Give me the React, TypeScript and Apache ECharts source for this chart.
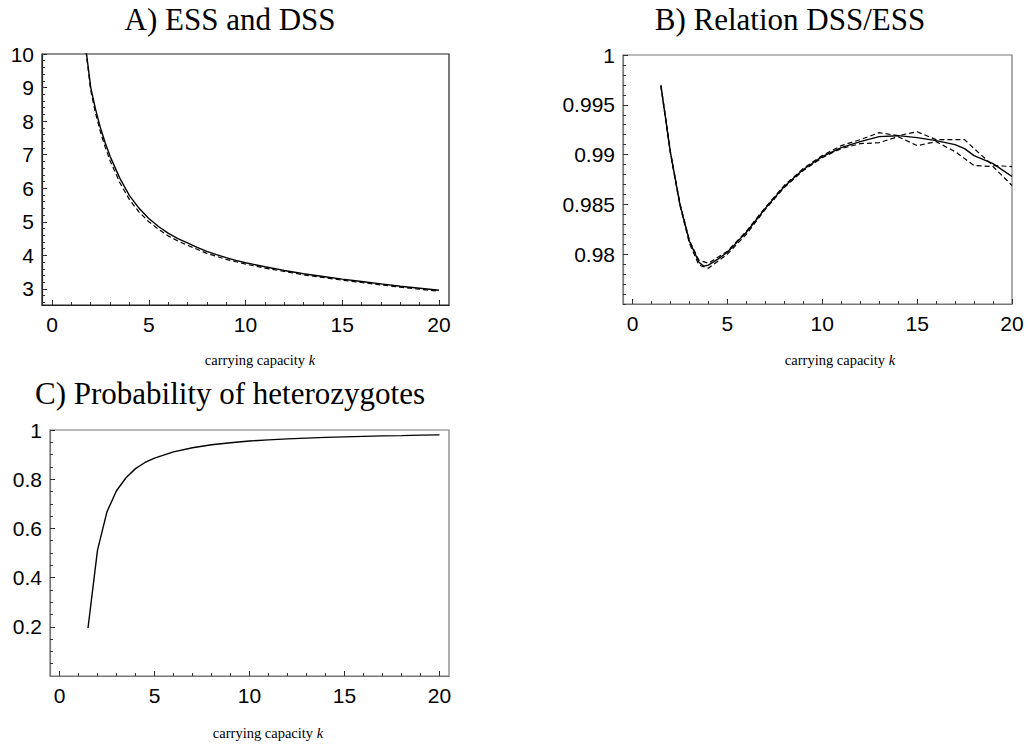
import React, { useEffect, useRef } from "react";
import * as echarts from "echarts";

// ---------- Panel A: ESS and DSS ----------
const K_A = [1.75, 2, 2.25, 2.5, 2.75, 3, 3.5, 4, 4.5, 5, 5.5, 6, 6.5, 7, 7.5, 8, 8.5, 9, 9.5, 10, 11, 12, 13, 14, 15, 16, 17, 18, 19, 20];
const ESS = [10.15, 9.0, 8.35, 7.8, 7.35, 6.95, 6.3, 5.78, 5.4, 5.1, 4.86, 4.66, 4.5, 4.37, 4.24, 4.12, 4.02, 3.93, 3.85, 3.78, 3.66, 3.55, 3.45, 3.37, 3.29, 3.22, 3.15, 3.08, 3.02, 2.96];
const DSS = [10.1, 8.91, 8.23, 7.68, 7.22, 6.82, 6.17, 5.66, 5.29, 5.0, 4.78, 4.58, 4.43, 4.3, 4.18, 4.06, 3.97, 3.88, 3.81, 3.74, 3.62, 3.52, 3.42, 3.34, 3.26, 3.19, 3.12, 3.05, 2.99, 2.93];

// ---------- Panel B: Relation DSS/ESS ----------
const K_B = [1.5, 2, 2.5, 3, 3.5, 3.75, 4, 4.5, 5, 6, 7, 8, 9, 10, 11, 12, 13, 14, 15, 16, 17, 17.5, 18, 19, 20];
const REL = [0.9969, 0.9902, 0.985, 0.9813, 0.9792, 0.9788, 0.9789, 0.9795, 0.9802, 0.9822, 0.9846, 0.9868, 0.9885, 0.9898, 0.9907, 0.9913, 0.9918, 0.9919, 0.9917, 0.9914, 0.991, 0.9906, 0.9899, 0.9891, 0.9878];
const K_BAND = [1.5, 2, 2.5, 3, 3.5, 4, 4.5, 5, 6, 7, 8, 9, 10, 11, 12, 13, 14, 15, 16, 17, 17.5, 18, 19, 20];
const REL_UPPER = [0.997, 0.9903, 0.9851, 0.9814, 0.9794, 0.9791, 0.9797, 0.9803, 0.9823, 0.9847, 0.9869, 0.9886, 0.9899, 0.9909, 0.9915, 0.9922, 0.9919, 0.9923, 0.9915, 0.9915, 0.9915, 0.9906, 0.9889, 0.9888];
const REL_LOWER = [0.9968, 0.9901, 0.9849, 0.9811, 0.9789, 0.9786, 0.9793, 0.98, 0.982, 0.9845, 0.9867, 0.9884, 0.9897, 0.9906, 0.9911, 0.9912, 0.9918, 0.9909, 0.9913, 0.9903, 0.9896, 0.9889, 0.9888, 0.9869];

// ---------- Panel C: Probability of heterozygotes ----------
const K_C = [1.5, 2, 2.5, 3, 3.5, 4, 4.5, 5, 6, 7, 8, 9, 10, 11, 12, 13, 14, 15, 16, 17, 18, 19, 20];
const HET = [0.195, 0.512, 0.668, 0.753, 0.806, 0.843, 0.868, 0.886, 0.911, 0.928, 0.94, 0.948, 0.955, 0.96, 0.964, 0.967, 0.97, 0.972, 0.974, 0.976, 0.977, 0.979, 0.98];

// ---------- tick labels ----------
const X_TICKS = [0, 5, 10, 15, 20];
const Y_TICKS_A = [3, 4, 5, 6, 7, 8, 9, 10];
const Y_TICKS_B = [0.98, 0.985, 0.99, 0.995, 1];
const Y_TICKS_C = [0.2, 0.4, 0.6, 0.8, 1];

const TITLES = ["A) ESS and DSS", "B) Relation DSS/ESS", "C) Probability of heterozygotes"];
const X_NAME = "{a|carrying capacity }{b|k}";

function steps(from: number, to: number, step: number, digits: number) {
  const out: number[] = [];
  const n = Math.round((to - from) / step);
  for (let i = 0; i <= n; i++) out.push(+(from + i * step).toFixed(digits));
  return out;
}

const LABEL_FONT = { color: "#000", fontFamily: "Liberation Sans, Arial, sans-serif", fontSize: 21 };

function axisPair(
  kind: "x" | "y",
  gridIndex: number,
  min: number,
  max: number,
  majors: number[],
  minors: number[],
  lineColor: string,
  fmt?: (v: number) => string
) {
  const major: any = {
    type: "value",
    gridIndex,
    min,
    max,
    position: kind === "x" ? "bottom" : "left",
    axisLine: { show: true, onZero: false, lineStyle: { color: lineColor, width: 1.2 } },
    axisTick: { show: true, inside: true, length: 5, customValues: majors, lineStyle: { color: "#222", width: 1 } },
    axisLabel: {
      show: true,
      customValues: majors,
      margin: kind === "x" ? 9 : 8,
      showMinLabel: true,
      showMaxLabel: true,
      ...LABEL_FONT,
      formatter: fmt ? (v: number) => fmt(v) : (v: number) => String(v),
    },
    splitLine: { show: false },
  };
  const minor: any = {
    type: "value",
    gridIndex,
    min,
    max,
    position: kind === "x" ? "bottom" : "left",
    axisLine: { show: false, onZero: false },
    axisTick: { show: true, inside: true, length: 3, customValues: minors, lineStyle: { color: "#333", width: 1 } },
    axisLabel: { show: false },
    splitLine: { show: false },
  };
  return [major, minor];
}

export default function App() {
  const ref = useRef<HTMLDivElement>(null);

  useEffect(() => {
    if (!ref.current) return;
    const chart = echarts.init(ref.current, null, { renderer: "svg" });

    const xMinor = steps(0, 20, 1, 0);
    const [xA, xAm] = axisPair("x", 0, -0.52, 20.52, X_TICKS, xMinor, "#222");
    const [yA, yAm] = axisPair("y", 0, 2.52, 10, Y_TICKS_A, steps(2.6, 10, 0.2, 1), "#222");
    const [xB, xBm] = axisPair("x", 1, -0.5, 20, X_TICKS, xMinor, "#777");
    const [yB, yBm] = axisPair("y", 1, 0.975, 1, Y_TICKS_B, steps(0.975, 1, 0.001, 3), "#777", (v) =>
      String(+v.toFixed(3))
    );
    const [xC, xCm] = axisPair("x", 2, -0.5, 20.5, X_TICKS, xMinor, "#777");
    const [yC, yCm] = axisPair("y", 2, 0, 1, Y_TICKS_C, steps(0.05, 1, 0.05, 2), "#777", (v) =>
      String(+v.toFixed(1))
    );

    const solid = { color: "#000", width: 1.4, type: "solid" as const };
    const dashed = { color: "#000", width: 1.2, type: [5, 3] as any };
    const pairs = (xs: number[], ys: number[]) => xs.map((x, i) => [x, ys[i]]);

    const textTitle = (text: string, x: number, y: number) => ({
      type: "text",
      x,
      y,
      style: {
        text,
        fill: "#000",
        font: "31px 'Liberation Serif', 'Times New Roman', serif",
        align: "center",
        verticalAlign: "middle",
      },
    });
    const textXName = (x: number, y: number) => ({
      type: "text",
      x,
      y,
      style: {
        text: X_NAME,
        fill: "#000",
        align: "center",
        verticalAlign: "middle",
        rich: {
          a: { fontFamily: "Liberation Serif", fontSize: 14.5, fill: "#000" },
          b: { fontFamily: "Liberation Serif", fontSize: 14.5, fontStyle: "italic", fill: "#000" },
        },
      },
    });

    chart.setOption({
      animation: false,
      backgroundColor: "#fff",
      grid: [
        { left: 42, top: 54, width: 407, height: 251, show: true, borderColor: "#222", borderWidth: 1.2, backgroundColor: "transparent" },
        { left: 623, top: 55, width: 389, height: 249, show: true, borderColor: "#777", borderWidth: 1.2, backgroundColor: "transparent" },
        { left: 50, top: 430, width: 399, height: 246, show: true, borderColor: "#777", borderWidth: 1.2, backgroundColor: "transparent" },
      ],
      xAxis: [xA, xAm, xB, xBm, xC, xCm],
      yAxis: [yA, yAm, yB, yBm, yC, yCm],
      series: [
        { type: "line", name: "ESS", xAxisIndex: 0, yAxisIndex: 0, data: pairs(K_A, ESS), showSymbol: false, symbol: "none", lineStyle: solid, clip: true },
        { type: "line", name: "DSS", xAxisIndex: 0, yAxisIndex: 0, data: pairs(K_A, DSS), showSymbol: false, symbol: "none", lineStyle: dashed, clip: true },
        { type: "line", name: "DSS/ESS", xAxisIndex: 2, yAxisIndex: 2, data: pairs(K_B, REL), showSymbol: false, symbol: "none", lineStyle: solid, clip: true },
        { type: "line", name: "upper", xAxisIndex: 2, yAxisIndex: 2, data: pairs(K_BAND, REL_UPPER), showSymbol: false, symbol: "none", lineStyle: dashed, clip: true },
        { type: "line", name: "lower", xAxisIndex: 2, yAxisIndex: 2, data: pairs(K_BAND, REL_LOWER), showSymbol: false, symbol: "none", lineStyle: dashed, clip: true },
        { type: "line", name: "heterozygotes", xAxisIndex: 4, yAxisIndex: 4, data: pairs(K_C, HET), showSymbol: false, symbol: "none", lineStyle: solid, clip: true },
      ],
      graphic: [
        textTitle(TITLES[0], 230, 19),
        textTitle(TITLES[1], 790, 19),
        textTitle(TITLES[2], 230, 393),
        textXName(260, 360),
        textXName(840, 360),
        textXName(268, 733),
      ],
    });

    return () => chart.dispose();
  }, []);

  return <div ref={ref} style={{ position: "absolute", left: 0, top: 0, width: 1029, height: 747 }} />;
}
